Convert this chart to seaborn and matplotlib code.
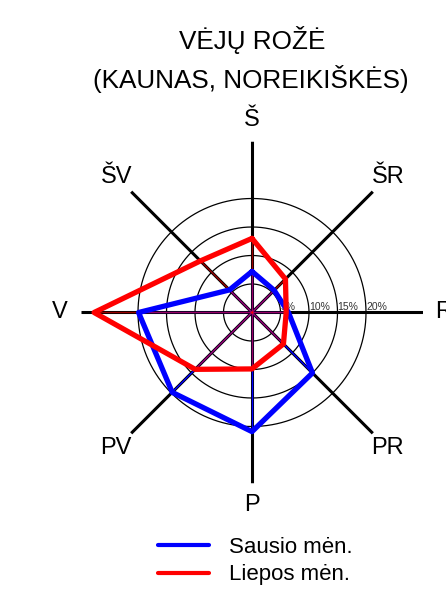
import numpy as np
import pandas as pd
import matplotlib
matplotlib.use("Agg")
import matplotlib.pyplot as plt
import seaborn as sns
from matplotlib.lines import Line2D

# ---- data ----
directions = ["Š", "ŠR", "R", "PR", "P", "PV", "V", "ŠV"]
series_names = ["Sausio mėn.", "Liepos mėn."]
sausio = [7.2, 5.5, 6.4, 15.0, 20.9, 19.8, 19.9, 5.6]
liepos = [13.0, 8.3, 6.0, 7.8, 9.9, 14.1, 27.7, 12.8]
ring_values = [5, 10, 15, 20]
ring_labels = ["5%", "10%", "15%", "20%"]
title_lines = ["VĖJŲ ROŽĖ", "(KAUNAS, NOREIKIŠKĖS)"]

sns.set_theme(style="white")
plt.rcParams["font.family"] = ["Liberation Sans", "DejaVu Sans"]
plt.rcParams["text.color"] = "black"

W, H = 446, 594
fig = plt.figure(figsize=(W / 100, H / 100), dpi=100)
cx, cy, R = 252, 312.5, 171
ax = fig.add_axes([(cx - R) / W, (H - cy - R) / H, 2 * R / W, 2 * R / H],
                  projection="polar")
ax.set_theta_zero_location("N")
ax.set_theta_direction(-1)
ax.set_ylim(0, 30)
ax.set_axis_off()

angles = np.deg2rad(np.arange(len(directions)) * 45.0)

# rings
tt = np.linspace(0, 2 * np.pi, 721)
for r in ring_values:
    ax.plot(tt, np.full_like(tt, r), color="black", lw=0.9, zorder=1)
# spokes
for a in angles:
    ax.plot([a, a], [0, 30], color="black", lw=2.2, zorder=2, solid_capstyle="butt")
# thin colored spokes
for a, v in zip(angles, sausio):
    ax.plot([a, a], [0, v], color="#0000ff", lw=1.0, zorder=3)
for a, v in zip(angles, liepos):
    ax.plot([a, a], [0, v], color="#ff0000", lw=1.0, alpha=0.6, zorder=3)

# ring labels
for r, lab in zip(ring_values, ring_labels):
    ax.text(np.pi / 2, r, lab, ha="left", va="bottom", fontsize=7.5,
            color="#333333", zorder=4)

# data polygons via seaborn
theta_closed = list(angles) + [2 * np.pi]
df = pd.DataFrame({
    "theta": theta_closed * 2,
    "value": sausio + [sausio[0]] + liepos + [liepos[0]],
    "series": [series_names[0]] * 9 + [series_names[1]] * 9,
})
sns.lineplot(data=df, x="theta", y="value", hue="series", units="series",
             estimator=None, sort=False, palette=["#0000ff", "#ff0000"],
             lw=3.8, ax=ax, zorder=5, legend=False)

# direction labels
for a, lab in zip(angles, directions):
    ax.text(a, 33.7, lab, ha="center", va="center", fontsize=17,
            clip_on=False, color="black")

# title
fig.text(cx / W, 1 - 40 / H, title_lines[0], ha="center", va="center", fontsize=18.8)
fig.text(251 / W, 1 - 79 / H, title_lines[1], ha="center", va="center", fontsize=18.8)

# legend
handles = [Line2D([0], [0], color="#0000ff", lw=3),
           Line2D([0], [0], color="#ff0000", lw=3)]
fig.legend(handles, series_names, loc="center left",
           bbox_to_anchor=(158 / W, 1 - 561 / H), frameon=False,
           fontsize=16, handlelength=2.3, handletextpad=0.9,
           labelspacing=0.3, borderpad=0, borderaxespad=0, labelcolor="black")

fig.savefig("out.png", dpi=100)
